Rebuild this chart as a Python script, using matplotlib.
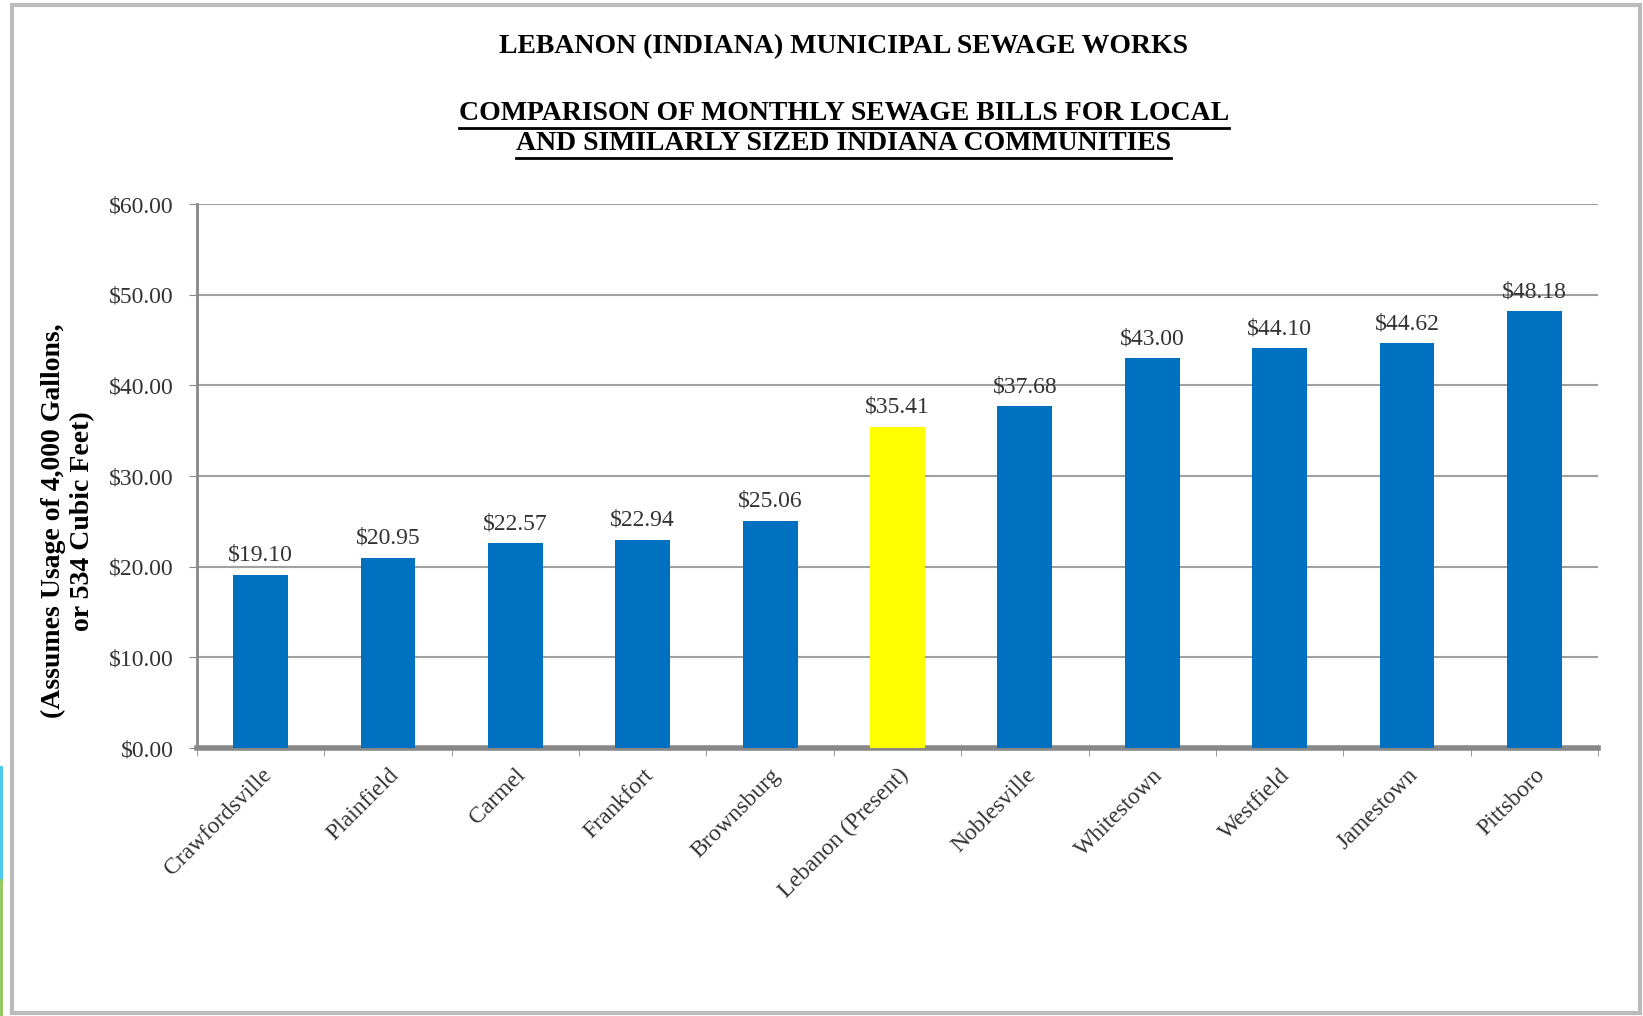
import matplotlib
matplotlib.use("Agg")
import matplotlib.pyplot as plt
from matplotlib.lines import Line2D
from matplotlib.patches import Rectangle
from matplotlib.ticker import FuncFormatter, MultipleLocator

# communities and monthly bills (4,000 gal)
towns = ["Crawfordsville", "Plainfield", "Carmel", "Frankfort", "Brownsburg",
         "Lebanon (Present)", "Noblesville", "Whitestown", "Westfield",
         "Jamestown", "Pittsboro"]
bills = [19.10, 20.95, 22.57, 22.94, 25.06, 35.41, 37.68, 43.00, 44.10, 44.62, 48.18]
highlight = "Lebanon (Present)"

plt.rcParams['font.family'] = ['Liberation Serif', 'DejaVu Serif']

fig = plt.figure(figsize=(16.43, 10.16), dpi=100)
ax = fig.add_axes([197 / 1643, 1 - 748 / 1016, 1401 / 1643, 544 / 1016])

colors = ["#FFFF00" if t == highlight else "#0070C0" for t in towns]
x = range(len(towns))
bars = ax.bar(x, bills, width=0.43, color=colors, zorder=3)

for b, v in zip(bars, bills):
    ax.text(b.get_x() + b.get_width() / 2, v + 1.0, "${:.2f}".format(v),
            ha="center", va="bottom", fontsize=17, color="#333333")

ax.set_ylim(0, 60)
ax.set_xlim(-0.5, len(towns) - 0.5)
ax.yaxis.set_major_locator(MultipleLocator(10))
ax.yaxis.set_major_formatter(FuncFormatter(lambda v, p: "${:.2f}".format(v)))
ax.grid(axis="y", color="#A0A0A0", linewidth=1.5, zorder=0)

ax.set_xticks(list(x))
ax.set_xticklabels(towns, rotation=45, ha="right", rotation_mode="anchor",
                   fontsize=17, color="#333333")
ax.set_xticks([i + 0.5 for i in range(-1, len(towns))], minor=True)
ax.tick_params(axis="x", which="major", length=0, pad=12)
ax.tick_params(axis="x", which="minor", length=6, color="#888888")
ax.tick_params(axis="y", labelsize=17, labelcolor="#333333", length=6,
               color="#888888", pad=11)

for s in ["top", "right"]:
    ax.spines[s].set_visible(False)
ax.spines["left"].set_color("#888888")
ax.spines["left"].set_linewidth(2)
ax.spines["bottom"].set_color("#888888")
ax.spines["bottom"].set_linewidth(4)

# y axis caption
fig.text(0.0414, 0.487, "(Assumes Usage of 4,000 Gallons,\nor 534 Cubic Feet)",
         rotation=90, ha="center", va="center", fontsize=20,
         fontweight="bold", linespacing=1.2)

# titles
cx = 0.5135
fig.text(cx, 1 - 47 / 1016, "LEBANON (INDIANA) MUNICIPAL SEWAGE WORKS",
         ha="center", va="center", fontsize=20, fontweight="bold")
t1 = fig.text(cx, 1 - 113 / 1016,
              "COMPARISON OF MONTHLY SEWAGE BILLS FOR LOCAL",
              ha="center", va="center", fontsize=20, fontweight="bold")
t2 = fig.text(cx, 1 - 143 / 1016,
              "AND SIMILARLY SIZED INDIANA COMMUNITIES",
              ha="center", va="center", fontsize=20, fontweight="bold")

# underline the subtitle lines
fig.canvas.draw()
r = fig.canvas.get_renderer()
for t in (t1, t2):
    bb = t.get_window_extent(renderer=r).transformed(fig.transFigure.inverted())
    fig.add_artist(Line2D([bb.x0, bb.x1], [bb.y0 - 0.002, bb.y0 - 0.002],
                          color="black", linewidth=2))

# page frame
fig.add_artist(Rectangle((12 / 1643, 3 / 1016), 1628 / 1643, 1008 / 1016,
                         fill=False, edgecolor="#BBBBBB", linewidth=3,
                         transform=fig.transFigure))
# coloured sliver at the left edge of the scan
fig.add_artist(Line2D([0.0008, 0.0008], [1 - 767 / 1016, 1 - 880 / 1016],
                      color="#3CC8F0", linewidth=2))
fig.add_artist(Line2D([0.0008, 0.0008], [1 - 880 / 1016, 0],
                      color="#8CC850", linewidth=2))

fig.savefig("out.png", dpi=100)
